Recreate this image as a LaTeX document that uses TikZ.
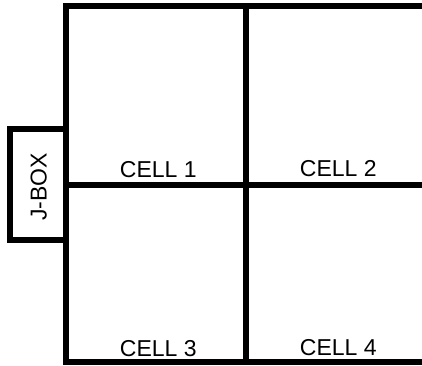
\documentclass[tikz,border=0pt]{standalone}
\usepackage{fontspec}
\setmainfont{Liberation Sans}
\begin{document}
\begin{tikzpicture}[x=1pt,y=-1pt,
  wall/.style={line width=6pt,line join=miter,draw=black},
  lbl/.style={inner sep=0pt,font=\fontsize{23}{27}\selectfont,anchor=base west}]
\useasboundingbox (0,0) rectangle (422,365);
\coordinate (tl) at (66.3,6.3);
\coordinate (br) at (424.6,362.3);
\coordinate (mt) at (245.7,6.3);
\coordinate (mb) at (245.7,362.3);
\coordinate (ml) at (66.3,184.7);
\coordinate (mr) at (424.6,184.7);
\draw[wall] (tl) rectangle (br);
\draw[wall] (mt) -- (mb);
\draw[wall] (ml) -- (mr);
\coordinate (jt) at (66.3,129);
\coordinate (jb) at (66.3,240.3);
\draw[wall] (jt) -- (10.3,129) -- (10.3,240.3) -- (jb);
\node[lbl] (c1) at (119.7,177) {CELL 1};
\node[lbl] (c2) at (299.7,176.7) {CELL 2};
\node[lbl] (c3) at (119.7,356.3) {CELL 3};
\node[lbl] (c4) at (299.7,355.5) {CELL 4};
\node[inner sep=0pt,font=\fontsize{23}{27}\selectfont,rotate=90] (jbox) at (38.7,187) {J-BOX};
\end{tikzpicture}
\end{document}
